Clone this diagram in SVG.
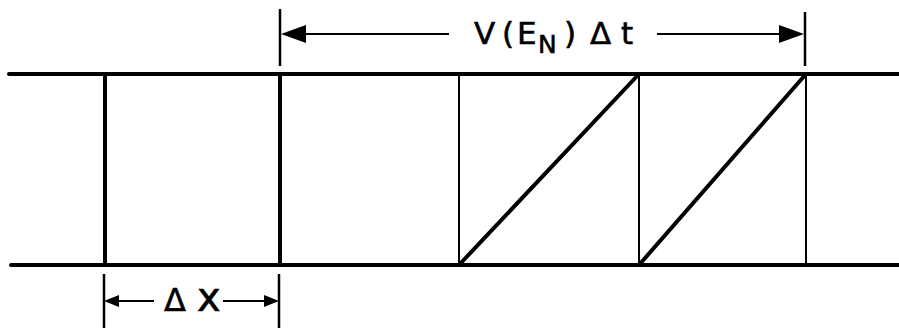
<svg xmlns="http://www.w3.org/2000/svg" width="899" height="328" viewBox="0 0 899 328">
<style>
.thick{stroke:#000;stroke-width:4;fill:none;stroke-linecap:round}
.thin{stroke:#000;stroke-width:2;fill:none}
.dim{stroke:#000;stroke-width:2.5;fill:none}
.lbl{font-family:"DejaVu Sans","Liberation Sans",sans-serif;fill:#000;stroke:#000;stroke-width:0.6}
</style>
<rect width="899" height="328" fill="#fff"/>
<g id="rails">
<line class="thick" x1="9" y1="74" x2="899" y2="74"/>
<line class="thick" x1="11" y1="265" x2="899" y2="265"/>
</g>
<g id="cells">
<line class="thick" x1="105" y1="74" x2="105" y2="265"/>
<line class="thick" x1="280" y1="74" x2="280" y2="265"/>
<line class="thin" x1="459" y1="74" x2="459" y2="265"/>
<line class="thin" x1="639" y1="74" x2="639" y2="265"/>
<line class="thin" x1="806" y1="74" x2="806" y2="265"/>
<line class="thick" x1="459" y1="265" x2="639" y2="74"/>
<line class="thick" x1="639" y1="265" x2="806" y2="74"/>
</g>
<g id="dim-top">
<line class="dim" x1="280" y1="9" x2="280" y2="66"/>
<line class="dim" x1="805" y1="12" x2="805" y2="66"/>
<line class="thin" x1="300" y1="34" x2="449" y2="34"/>
<line class="thin" x1="657" y1="34" x2="785" y2="34"/>
<polygon points="281,34 306,25 306,43" fill="#000"/>
<polygon points="804,34 779,25 779,43" fill="#000"/>
<text class="lbl" y="44" font-size="31"><tspan x="474 502 517">V(E</tspan><tspan x="538" font-size="25" dy="9">N</tspan><tspan x="564 590 621" dy="-9">)Δt</tspan></text>
</g>
<g id="dim-bottom">
<line class="dim" x1="104" y1="274" x2="104" y2="328"/>
<line class="dim" x1="279" y1="274" x2="279" y2="328"/>
<line class="thin" x1="115" y1="301" x2="154" y2="301"/>
<line class="thin" x1="223" y1="301" x2="266" y2="301"/>
<polygon points="104,301 119,295 119,307" fill="#000"/>
<polygon points="279,301 264,295 264,307" fill="#000"/>
<text class="lbl" y="311" font-size="32"><tspan x="164">Δ</tspan><tspan x="197" font-size="40">x</tspan></text>
</g>
</svg>
